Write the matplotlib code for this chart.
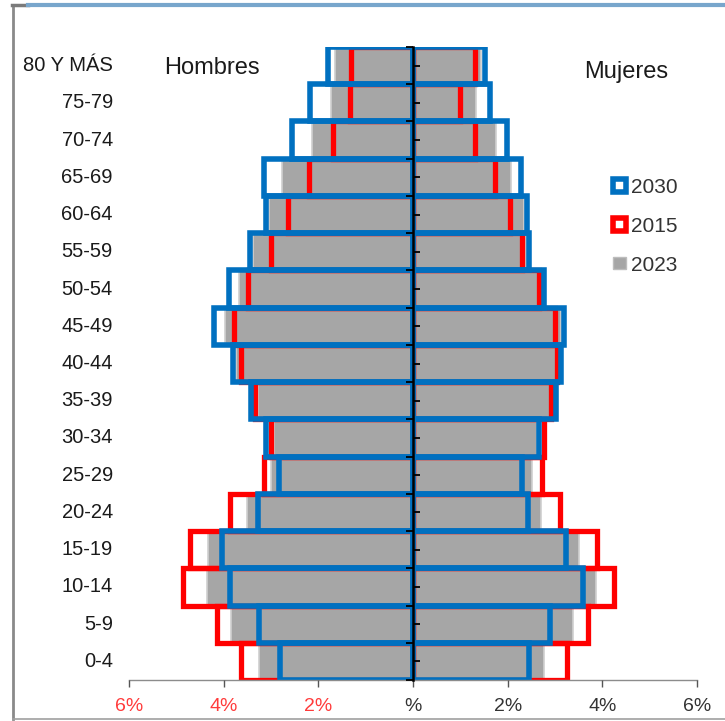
import numpy as np
import matplotlib
matplotlib.use("Agg")
import matplotlib.pyplot as plt
import matplotlib.transforms as mtransforms
from matplotlib.patches import Patch
from matplotlib.lines import Line2D

plt.rcParams['font.family'] = ['Liberation Sans', 'DejaVu Sans']

# age groups, bottom to top
ages = ['0-4', '5-9', '10-14', '15-19', '20-24', '25-29', '30-34', '35-39', '40-44',
        '45-49', '50-54', '55-59', '60-64', '65-69', '70-74', '75-79', '80 Y MÁS']

# percentages of total population
men_2030 = [2.82, 3.26, 3.86, 4.04, 3.27, 2.83, 3.10, 3.43, 3.80, 4.20, 3.89, 3.44, 3.10, 3.14, 2.56, 2.18, 1.79]
men_2015 = [3.63, 4.15, 4.86, 4.72, 3.87, 3.15, 3.00, 3.34, 3.64, 3.78, 3.49, 3.01, 2.64, 2.20, 1.70, 1.33, 1.30]
men_2023 = [3.26, 3.85, 4.35, 4.33, 3.51, 3.00, 2.94, 3.28, 3.74, 3.97, 3.68, 3.38, 3.04, 2.77, 2.13, 1.74, 1.65]

women_2030 = [2.46, 2.89, 3.60, 3.23, 2.43, 2.30, 2.67, 3.02, 3.13, 3.20, 2.77, 2.46, 2.41, 2.28, 1.98, 1.62, 1.52]
women_2015 = [3.25, 3.70, 4.24, 3.88, 3.10, 2.72, 2.77, 2.91, 3.04, 3.01, 2.67, 2.30, 2.04, 1.73, 1.31, 0.99, 1.31]
women_2023 = [2.77, 3.37, 3.86, 3.51, 2.70, 2.52, 2.62, 2.90, 3.08, 3.12, 2.65, 2.38, 2.35, 2.06, 1.75, 1.33, 1.43]

xticks = [-6, -4, -2, 0, 2, 4, 6]
xtick_labels = ['6%', '4%', '2%', '%', '2%', '4%', '6%']

BLUE = '#0070C0'
RED = '#FF0000'
GRAY = '#A6A6A6'

W, H = 725, 721
fig = plt.figure(figsize=(W / 100, H / 100), dpi=100)
ax = fig.add_axes([129 / W, 1 - 680 / H, (697 - 129) / W, (680 - 47) / H])

y = np.arange(len(ages))

# 2023 filled gray
ax.barh(y, -np.array(men_2023), height=1.0, color=GRAY, edgecolor='#cfcfcf', linewidth=1.2, zorder=1.0)
ax.barh(y, women_2023, height=1.0, color=GRAY, edgecolor='#cfcfcf', linewidth=1.2, zorder=1.0)
# 2015 red outline
ax.barh(y, -np.array(men_2015), height=1.0, facecolor='none', edgecolor=RED, linewidth=3.8, zorder=1.2)
ax.barh(y, women_2015, height=1.0, facecolor='none', edgecolor=RED, linewidth=3.8, zorder=1.2)
# 2030 blue outline
ax.barh(y, -np.array(men_2030), height=1.0, facecolor='none', edgecolor=BLUE, linewidth=4.0, zorder=1.4)
ax.barh(y, women_2030, height=1.0, facecolor='none', edgecolor=BLUE, linewidth=4.0, zorder=1.4)

ax.set_xlim(-6, 6)
ax.set_ylim(-0.5, len(ages) - 0.5)
ax.set_axisbelow(False)

# central vertical axis
ax.spines['left'].set_position(('data', 0))
ax.spines['left'].set_color('black')
ax.spines['left'].set_linewidth(1.8)
ax.spines['left'].set_zorder(4)
ax.spines['top'].set_visible(False)
ax.spines['right'].set_visible(False)
ax.spines['bottom'].set_color('#8c8c8c')
ax.spines['bottom'].set_linewidth(1.0)

ax.set_yticks(np.arange(-0.5, len(ages), 1.0))
ax.set_yticks(y, minor=True)
ax.tick_params(axis='y', which='major', direction='out', length=5, width=1.3, color='black', labelleft=False)
ax.tick_params(axis='y', which='minor', direction='in', length=5, width=1.3, color='black', labelleft=False)

ax.set_xticks(xticks)
ax.set_xticklabels(xtick_labels)
ax.tick_params(axis='x', direction='out', length=5, width=1.0, color='#555555', pad=8, labelsize=14)
for lbl, v in zip(ax.get_xticklabels(), xticks):
    lbl.set_color('#ff3b3b' if v < 0 else '#333333')

# age labels on the left
trans = mtransforms.blended_transform_factory(fig.transFigure, ax.transData)
for yi, lab in zip(y, ages):
    ax.text(113 / W, yi, lab, transform=trans, ha='right', va='center', fontsize=14.5, color='#1a1a1a')

fig.text(212 / W, 1 - 68 / H, 'Hombres', ha='center', va='center', fontsize=17, color='#1a1a1a')
fig.text(626 / W, 1 - 72 / H, 'Mujeres', ha='center', va='center', fontsize=17, color='#1a1a1a')

handles = [
    Patch(facecolor='white', edgecolor=BLUE, linewidth=4.0, label='2030'),
    Patch(facecolor='white', edgecolor=RED, linewidth=4.0, label='2015'),
    Patch(facecolor=GRAY, edgecolor='#bdbdbd', linewidth=1.0, label='2023'),
]
fig.legend(handles=handles, loc='upper left', bbox_to_anchor=(613 / W, 1 - 178 / H),
           frameon=False, fontsize=15, handlelength=0.6, handleheight=0.55,
           handletextpad=0.25, labelspacing=0.95, borderpad=0, borderaxespad=0,
           labelcolor='#333333')

# outer frame remnants
fig.add_artist(Line2D([13 / W, 13 / W], [1 - 5 / H, 1 - 719 / H], transform=fig.transFigure, color='#8a8a8a', lw=2))
fig.add_artist(Line2D([13 / W, 1.0], [1 - 719 / H, 1 - 719 / H], transform=fig.transFigure, color='#a0a0a0', lw=1.2))
fig.add_artist(Line2D([12 / W, 28 / W], [1 - 5 / H, 1 - 5 / H], transform=fig.transFigure, color='#7a7a7a', lw=2.5))
fig.add_artist(Line2D([28 / W, 1.0], [1 - 5 / H, 1 - 5 / H], transform=fig.transFigure, color='#78a6cc', lw=3))

fig.savefig('out.png', dpi=100)
